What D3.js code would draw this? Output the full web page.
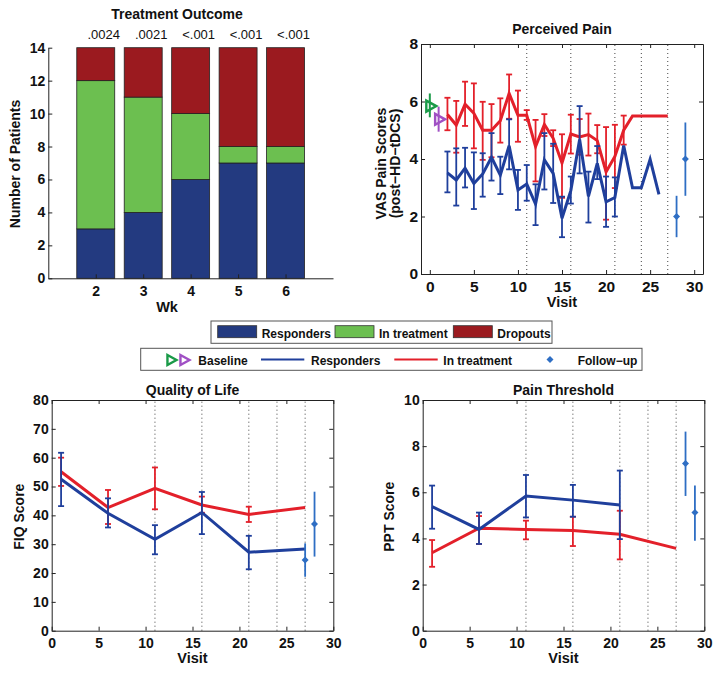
<!DOCTYPE html>
<html><head><meta charset="utf-8">
<script src="https://cdn.jsdelivr.net/npm/d3@7"></script>
<style>body{margin:0;background:#fff;} text{font-family:"Liberation Sans",Arial,sans-serif;}</style>
</head><body>
<script>
// ---------- DATA ----------
const weeks = [2,3,4,5,6];
const responders = [3,4,6,7,7];
const inTreatment = [9,7,4,1,1];
const dropouts = [2,3,4,6,6];
const pValues = [".0024",".0021","<.001","<.001","<.001"];

const sessionMarks = [11,16,21,24,27];

// Perceived pain
const baselineVisits = [0,1];
const baselineVals = [5.84,5.38];
const baselineHi = [6.28,5.82];
const baselineLo = [5.45,4.95];

const painRedVisits = [2,3,4,5,6,7,8,9,10,11,12,13,14,15,16,17,18,19,20,21,22,23,24,25,26,27];
const painRed = [5.55,5.18,5.91,5.59,5.0,5.0,5.33,6.28,5.52,5.52,4.43,5.2,4.72,3.86,4.87,4.77,4.85,4.64,3.55,4.09,5.0,5.5,5.5,5.5,5.5,5.5];
const painRedHi = [6.13,6.02,6.69,6.63,5.99,5.91,6.11,6.94,6.38,5.7,5.36,5.56,5.0,4.86,5.54,5.39,5.58,5.18,5.11,5.19,5.51,null,null,null,null,null];
const painRedLo = [5.0,4.22,5.15,4.37,3.97,4.06,4.57,5.4,4.6,5.36,3.22,4.8,4.45,2.65,4.19,4.15,4.12,4.2,1.89,2.99,4.5,null,null,null,null,null];

const painBlueVisits = [2,3,4,5,6,7,8,9,10,11,12,13,14,15,16,17,18,19,20,21,22,23,24,25,26];
const painBlue = [3.52,3.27,3.68,3.15,3.48,4.06,3.44,4.46,2.92,3.13,2.43,3.97,3.5,1.94,2.9,4.68,2.7,3.85,2.51,2.66,4.47,3.0,3.0,3.99,2.77];
const painBlueHi = [4.26,4.37,4.39,4.23,4.2,4.9,4.08,5.38,3.62,3.79,3.12,4.9,4.53,2.69,3.39,5.84,3.56,4.45,3.39,3.36,null,null,null,null,null];
const painBlueLo = [2.84,2.38,3.01,2.26,2.69,3.25,2.78,3.64,2.23,2.55,1.7,2.94,2.47,1.28,2.45,3.5,1.79,3.3,1.64,2.0,null,null,null,null,null];

const painFollowVisits = [28,29];
const painFollow = [2.0,4.0];
const painFollowHi = [2.72,5.27];
const painFollowLo = [1.28,2.72];

// Quality of life
const qolVisits = [1,6,11,16,21,27];
const qolRed = [55.1,42.7,49.4,43.6,40.3,42.7];
const qolRedHi = [60.0,48.8,56.6,46.5,43.0,null];
const qolRedLo = [50.2,37.0,42.1,40.9,37.7,null];
const qolBlue = [52.5,40.7,31.7,41.0,27.2,28.3];
const qolBlueHi = [61.7,45.9,36.6,48.1,32.9,null];
const qolBlueLo = [43.2,35.8,26.5,33.5,21.3,null];
const qolFollowVisits = [27,28];
const qolFollow = [24.5,37.0];
const qolFollowHi = [30.3,48.2];
const qolFollowLo = [18.7,25.7];

// Pain threshold
const ptBlueVisits = [1,6,11,16,21];
const ptBlue = [5.38,4.39,5.84,5.66,5.45];
const ptBlueHi = [6.29,5.12,6.75,6.32,6.94];
const ptBlueLo = [4.42,3.76,4.91,4.94,3.97];
const ptRedVisits = [1,6,11,16,21,27];
const ptRed = [3.38,4.44,4.39,4.34,4.18,3.57];
const ptRedHi = [3.93,4.97,4.77,4.94,5.2,null];
const ptRedLo = [2.77,3.76,3.96,3.67,3.09,null];
const ptFollowVisits = [28,29];
const ptFollow = [7.25,5.12];
const ptFollowHi = [8.63,6.29];
const ptFollowLo = [5.84,3.9];

// ---------- STYLE ----------
const C = {
  barBlue:"#233a80", barGreen:"#6cbf50", barRed:"#9b1a1f",
  blue:"#1f3f9c", red:"#e3202a", follow:"#2e6ec4",
  green:"#1a9a48", purple:"#a050c4", axis:"#222"
};
const FONT = '"Liberation Sans",Arial,sans-serif';
const fmt = d3.format("d");

const svg = d3.select("body").append("svg").attr("width",721).attr("height",673);

function axes(g, x, y, xt, yt, opt){
  const fs = opt.fs;
  const ax = g.append("g").attr("transform",`translate(0,${y.range()[0]})`)
    .call(d3.axisBottom(x).tickValues(xt).tickFormat(fmt).tickSize(-4).tickSizeOuter(0).tickPadding(opt.xpad));
  const ay = g.append("g").attr("transform",`translate(${x.range()[0]},0)`)
    .call(d3.axisLeft(y).tickValues(yt).tickFormat(fmt).tickSize(-4).tickSizeOuter(0).tickPadding(3));
  [ax,ay].forEach(a=>{
    a.selectAll("text").attr("font-size",fs).attr("font-weight","bold").attr("fill","#111").attr("font-family",FONT);
    a.selectAll("line,path").attr("stroke",C.axis);
  });
  if(opt.box){
    const at = g.append("g").attr("transform",`translate(0,${y.range()[1]})`)
      .call(d3.axisTop(x).tickValues(xt).tickSize(-4).tickSizeOuter(0).tickFormat(""));
    const ar = g.append("g").attr("transform",`translate(${x.range()[1]},0)`)
      .call(d3.axisRight(y).tickValues(yt).tickSize(-4).tickSizeOuter(0).tickFormat(""));
    [at,ar].forEach(a=>a.selectAll("line,path").attr("stroke",C.axis));
  }
}

function label(txt, x, y, fs, opts={}){
  const t = svg.append("text").attr("x",x).attr("y",y).attr("font-size",fs)
    .attr("font-weight",opts.normal?"normal":"bold").attr("fill","#111")
    .attr("text-anchor",opts.anchor||"middle").text(txt);
  if(opts.rot) t.attr("transform",`rotate(-90,${x},${y})`);
  return t;
}

function dotted(g, x, y){
  g.selectAll(null).data(sessionMarks).join("line")
    .attr("x1",d=>x(d)).attr("x2",d=>x(d)).attr("y1",y.range()[0]).attr("y2",y.range()[1])
    .attr("stroke","#444").attr("stroke-width",1).attr("stroke-dasharray","1,3");
}

function series(g, x, y, xs, vals, hi, lo, color, cap){
  const pts = xs.map((v,i)=>({v, m:vals[i], h:hi?hi[i]:null, l:lo?lo[i]:null}));
  const eb = pts.filter(p=>p.h!=null);
  g.selectAll(null).data(eb).join("line")
    .attr("x1",d=>x(d.v)).attr("x2",d=>x(d.v)).attr("y1",d=>y(d.h)).attr("y2",d=>y(d.l))
    .attr("stroke",color).attr("stroke-width",1.8);
  if(cap){
    ["h","l"].forEach(k=>{
      g.selectAll(null).data(eb).join("line")
        .attr("x1",d=>x(d.v)-cap).attr("x2",d=>x(d.v)+cap).attr("y1",d=>y(d[k])).attr("y2",d=>y(d[k]))
        .attr("stroke",color).attr("stroke-width",1.8);
    });
  }
  g.append("path").datum(pts)
    .attr("d",d3.line().x(d=>x(d.v)).y(d=>y(d.m)))
    .attr("fill","none").attr("stroke",color).attr("stroke-width",3).attr("stroke-linejoin","miter");
}

function follow(g, x, y, xs, vals, hi, lo){
  const pts = xs.map((v,i)=>({v,m:vals[i],h:hi[i],l:lo[i]}));
  g.selectAll(null).data(pts).join("line")
    .attr("x1",d=>x(d.v)).attr("x2",d=>x(d.v)).attr("y1",d=>y(d.h)).attr("y2",d=>y(d.l))
    .attr("stroke",C.follow).attr("stroke-width",1.8);
  g.selectAll(null).data(pts).join("path")
    .attr("d",d=>`M${x(d.v)-3.5},${y(d.m)}L${x(d.v)},${y(d.m)-3.5}L${x(d.v)+3.5},${y(d.m)}L${x(d.v)},${y(d.m)+3.5}Z`)
    .attr("fill",C.follow);
}

function tri(g, cx, cy, color, s){
  g.append("path")
    .attr("d",`M${cx-s*0.45},${cy-s*0.55}L${cx+s*0.55},${cy}L${cx-s*0.45},${cy+s*0.55}Z`)
    .attr("fill","none").attr("stroke",color).attr("stroke-width",2.4).attr("stroke-linejoin","miter");
}

// ---------- PANEL 1: Treatment outcome ----------
{
  const g = svg.append("g");
  const x = d3.scaleLinear().domain([1,7]).range([48.3,333]);
  const y = d3.scaleLinear().domain([0,14]).range([278.3,47.7]);
  const stack = d3.stack().keys(["r","t","d"])(weeks.map((w,i)=>({w,r:responders[i],t:inTreatment[i],d:dropouts[i]})));
  const cols = [C.barBlue,C.barGreen,C.barRed];
  const bw = (x(2)-x(1))*0.8;
  stack.forEach((layer,k)=>{
    g.selectAll(null).data(layer).join("rect")
      .attr("x",d=>x(d.data.w)-bw/2).attr("width",bw)
      .attr("y",d=>y(d[1])).attr("height",d=>y(d[0])-y(d[1]))
      .attr("fill",cols[k]).attr("stroke","#222").attr("stroke-width",0.8);
  });
  axes(g,x,y,weeks,d3.range(0,15,2),{fs:14,xpad:7.5,box:false});
  g.selectAll(null).data(weeks).join("text")
    .attr("x",(d)=>x(d)+8).attr("y",39).attr("text-anchor","middle")
    .attr("font-size",13).attr("fill","#111").text((d,i)=>pValues[i]);
  label("Treatment Outcome",177,19.3,14);
  label("Wk",167,311.7,14.5);
  label("Number of Patients",20,164,14,{rot:true});
}

// ---------- PANEL 2: Perceived pain ----------
{
  const g = svg.append("g");
  const x = d3.scaleLinear().domain([-1,31]).range([421,703]);
  const y = d3.scaleLinear().domain([0,8]).range([274,44]);
  dotted(g,x,y);
  series(g,x,y,painRedVisits,painRed,painRedHi,painRedLo,C.red,3);
  series(g,x,y,painBlueVisits,painBlue,painBlueHi,painBlueLo,C.blue,3);
  follow(g,x,y,painFollowVisits,painFollow,painFollowHi,painFollowLo);
  const bcol=[C.green,C.purple];
  baselineVisits.forEach((v,i)=>{
    g.append("line").attr("x1",x(v)).attr("x2",x(v)).attr("y1",y(baselineHi[i])).attr("y2",y(baselineLo[i]))
      .attr("stroke",bcol[i]).attr("stroke-width",2);
    tri(g,x(v)+1,y(baselineVals[i]),bcol[i],10);
  });
  axes(g,x,y,d3.range(0,31,5),d3.range(0,9,2),{fs:15.5,xpad:7.3,box:true});
  label("Perceived Pain",562,34.3,14);
  label("Visit",562,307.3,14.5);
  label("VAS Pain Scores",385.5,163.5,14,{rot:true});
  label("(post\u2212HD\u2212tDCS)",399.5,163.5,14,{rot:true});
}

// ---------- PANEL 3: Quality of Life ----------
{
  const g = svg.append("g");
  const x = d3.scaleLinear().domain([0,30]).range([51.7,333.3]);
  const y = d3.scaleLinear().domain([0,80]).range([630.7,400]);
  dotted(g,x,y);
  series(g,x,y,qolVisits,qolRed,qolRedHi,qolRedLo,C.red,3);
  series(g,x,y,qolVisits,qolBlue,qolBlueHi,qolBlueLo,C.blue,3);
  follow(g,x,y,qolFollowVisits,qolFollow,qolFollowHi,qolFollowLo);
  axes(g,x,y,d3.range(0,31,5),d3.range(0,81,10),{fs:14,xpad:7.7,box:true});
  label("Quality of Life",192.5,395,14);
  label("Visit",192.5,663.3,14.5);
  label("FIQ Score",24,516.7,14,{rot:true});
}

// ---------- PANEL 4: Pain threshold ----------
{
  const g = svg.append("g");
  const x = d3.scaleLinear().domain([0,30]).range([422.7,704.3]);
  const y = d3.scaleLinear().domain([0,10]).range([630.7,400]);
  dotted(g,x,y);
  series(g,x,y,ptRedVisits,ptRed,ptRedHi,ptRedLo,C.red,3);
  series(g,x,y,ptBlueVisits,ptBlue,ptBlueHi,ptBlueLo,C.blue,3);
  follow(g,x,y,ptFollowVisits,ptFollow,ptFollowHi,ptFollowLo);
  axes(g,x,y,d3.range(0,31,5),d3.range(0,11,2),{fs:14,xpad:7.7,box:true});
  label("Pain Threshold",563.5,395,14);
  label("Visit",563.5,663.3,14.5);
  label("PPT Score",394,516.7,14,{rot:true});
}

// ---------- LEGENDS ----------
{
  const g = svg.append("g");
  g.append("rect").attr("x",211).attr("y",321).attr("width",341).attr("height",22.3)
    .attr("fill","#fff").attr("stroke","#555");
  const items = [["Responders",C.barBlue,217.7],["In treatment",C.barGreen,335],["Dropouts",C.barRed,453.3]];
  items.forEach(([t,c,x0])=>{
    g.append("rect").attr("x",x0).attr("y",325.7).attr("width",39).attr("height",12).attr("fill",c).attr("stroke","#333").attr("stroke-width",0.8);
    g.append("text").attr("x",x0+44).attr("y",337.5).attr("font-size",12).attr("font-weight","bold").attr("fill","#111").text(t);
  });

  g.append("rect").attr("x",140.7).attr("y",348.3).attr("width",501.3).attr("height",22)
    .attr("fill","#fff").attr("stroke","#555");
  tri(g,171.5,360,C.green,9);
  tri(g,184.5,360,C.purple,9);
  g.append("text").attr("x",198.3).attr("y",365).attr("font-size",12).attr("font-weight","bold").attr("fill","#111").text("Baseline");
  g.append("line").attr("x1",261).attr("x2",304.3).attr("y1",359.5).attr("y2",359.5).attr("stroke",C.blue).attr("stroke-width",2);
  g.append("text").attr("x",311).attr("y",365).attr("font-size",12).attr("font-weight","bold").attr("fill","#111").text("Responders");
  g.append("line").attr("x1",394.3).attr("x2",437.7).attr("y1",359.5).attr("y2",359.5).attr("stroke",C.red).attr("stroke-width",2);
  g.append("text").attr("x",443.3).attr("y",365).attr("font-size",12).attr("font-weight","bold").attr("fill","#111").text("In treatment");
  g.append("path").attr("d","M546.5,359.5L550,356L553.5,359.5L550,363Z").attr("fill",C.follow);
  g.append("text").attr("x",577.7).attr("y",365).attr("font-size",12).attr("font-weight","bold").attr("fill","#111").text("Follow\u2212up");
}
</script>
</body></html>
